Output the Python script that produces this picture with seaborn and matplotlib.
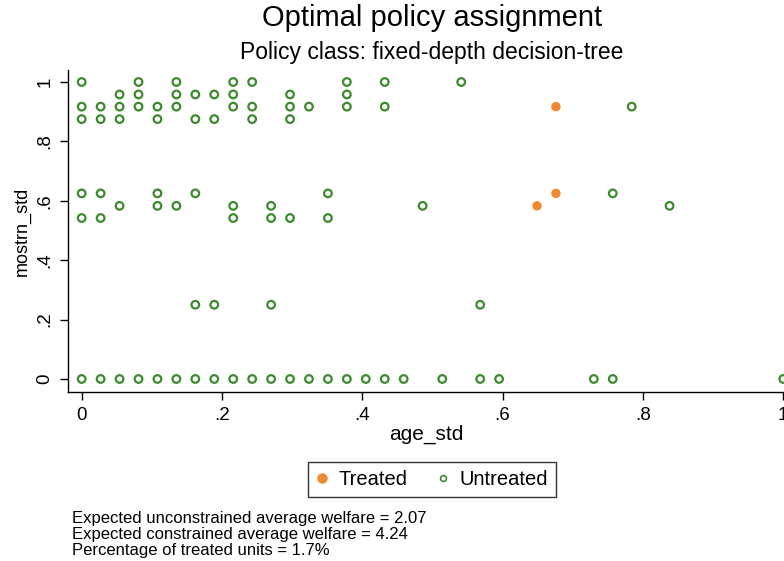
import matplotlib
matplotlib.use("Agg")
import matplotlib.pyplot as plt
import seaborn as sns
import pandas as pd
from matplotlib.lines import Line2D

# ---- data ----
untreated_age = [
    # mostrn_std = 1.0
    0.000, 0.081, 0.135, 0.216, 0.243, 0.378, 0.432, 0.541,
    # 0.958
    0.054, 0.081, 0.135, 0.162, 0.189, 0.216, 0.297, 0.378,
    # 0.917
    0.000, 0.027, 0.054, 0.081, 0.108, 0.135, 0.216, 0.243, 0.297, 0.324, 0.378, 0.432, 0.784,
    # 0.875
    0.000, 0.027, 0.054, 0.108, 0.162, 0.189, 0.243, 0.297,
    # 0.625
    0.000, 0.027, 0.108, 0.162, 0.351, 0.757,
    # 0.583
    0.054, 0.108, 0.135, 0.216, 0.270, 0.486, 0.838,
    # 0.542
    0.000, 0.027, 0.216, 0.270, 0.297, 0.351,
    # 0.25
    0.162, 0.189, 0.270, 0.568,
    # 0.0
    0.000, 0.027, 0.054, 0.081, 0.108, 0.135, 0.162, 0.189, 0.216, 0.243,
    0.270, 0.297, 0.324, 0.351, 0.378, 0.405, 0.432, 0.459, 0.514, 0.568,
    0.595, 0.730, 0.757, 1.000,
]
untreated_mostrn = (
    [1.0] * 8 + [0.958] * 8 + [0.917] * 13 + [0.875] * 8 + [0.625] * 6
    + [0.583] * 7 + [0.542] * 6 + [0.25] * 4 + [0.0] * 24
)
treated_age = [0.676, 0.676, 0.649]
treated_mostrn = [0.917, 0.625, 0.583]

x_ticks = [0, 0.2, 0.4, 0.6, 0.8, 1.0]
x_ticklabels = ["0", ".2", ".4", ".6", ".8", "1"]
y_ticks = [0, 0.2, 0.4, 0.6, 0.8, 1.0]
y_ticklabels = ["0", ".2", ".4", ".6", ".8", "1"]

title = "Optimal policy assignment"
subtitle = "Policy class: fixed-depth decision-tree"
notes = [
    "Expected unconstrained average welfare = 2.07",
    "Expected constrained average welfare = 4.24",
    "Percentage of treated units = 1.7%",
]

ORANGE = "#F08A32"
GREEN = "#3C8A2E"

df_u = pd.DataFrame({"age_std": untreated_age, "mostrn_std": untreated_mostrn})
df_t = pd.DataFrame({"age_std": treated_age, "mostrn_std": treated_mostrn})

sns.set_style("white")
plt.rcParams["font.family"] = ["Liberation Sans", "DejaVu Sans"]
plt.rcParams["text.color"] = "black"
plt.rcParams["axes.labelcolor"] = "black"
plt.rcParams["xtick.color"] = "black"
plt.rcParams["ytick.color"] = "black"

W, H = 784, 561
fig = plt.figure(figsize=(W / 100, H / 100), dpi=100)
ax = fig.add_axes([68 / W, 1 - 392 / H, 1 - 68 / W, (392 - 70) / H])

sns.scatterplot(data=df_u, x="age_std", y="mostrn_std", ax=ax, s=30,
                facecolor="none", edgecolor=GREEN, linewidth=1.6, marker="o",
                zorder=3)
sns.scatterplot(data=df_t, x="age_std", y="mostrn_std", ax=ax, s=46,
                color=ORANGE, edgecolor="none", linewidth=0, marker="o",
                zorder=4)

ax.set_xlim(-0.0195, 1.0011)
ax.set_ylim(-0.0438, 1.0404)
ax.set_xticks(x_ticks)
ax.set_xticklabels(x_ticklabels)
ax.set_yticks(y_ticks)
ax.set_yticklabels(y_ticklabels, rotation=90, va="center")
for s in ["top", "right"]:
    ax.spines[s].set_visible(False)
for s in ["left", "bottom"]:
    ax.spines[s].set_color("black")
    ax.spines[s].set_linewidth(1.0)
ax.tick_params(axis="both", which="major", direction="out", length=5.5,
               width=1.0, color="black", labelsize=13.5, left=True, bottom=True)
ax.tick_params(axis="y", pad=5)
ax.tick_params(axis="x", pad=5)
ax.set_xlabel("age_std", fontsize=15, labelpad=1)
ax.set_ylabel("mostrn_std", fontsize=13, labelpad=4)
ax.grid(False)

fig.text(432 / W, 1 - 18 / H, title, ha="center", va="center", fontsize=21)
fig.text(432 / W, 1 - 52 / H, subtitle, ha="center", va="center", fontsize=16.5)

handles = [
    Line2D([], [], linestyle="none", marker="o", markersize=6.5,
           markerfacecolor=ORANGE, markeredgecolor=ORANGE, label="Treated"),
    Line2D([], [], linestyle="none", marker="o", markersize=4.2,
           markerfacecolor="none", markeredgecolor=GREEN, markeredgewidth=1.2,
           label="Untreated"),
]
leg = fig.legend(handles=handles, loc="center", ncol=2,
                 bbox_to_anchor=(432 / W, 1 - 479.5 / H), frameon=True,
                 fancybox=False, edgecolor="black", fontsize=14.5,
                 handletextpad=0.5, columnspacing=1.5, handlelength=0.6,
                 borderpad=0.4)
leg.get_frame().set_linewidth(1.0)

for i, line in enumerate(notes):
    fig.text(72 / W, 1 - (519 + 16 * i) / H, line, ha="left", va="center",
             fontsize=12)

fig.savefig("out.png", dpi=100)
